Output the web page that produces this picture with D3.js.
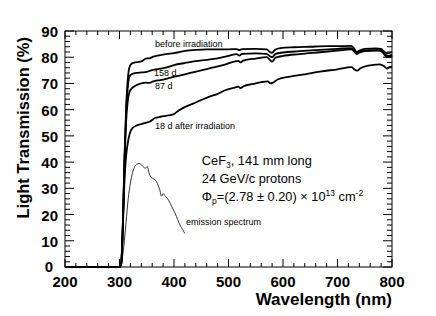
<!DOCTYPE html>
<html>
<head>
<meta charset="utf-8">
<script src="https://cdn.jsdelivr.net/npm/d3@7"></script>
<style>
  body { margin: 0; background: #fff; }
  svg { display: block; font-family: "Liberation Sans", Arial, Helvetica, sans-serif; }
</style>
</head>
<body>
<div class="chart"></div>
<script>
// transmission curves, [wavelength nm, transmission %]
var beforeIrr = [[200,0],[300,0],[303,1],[306,15],[309,40],[312,60],[315,71],[318,76],[322,77.5],[328,78],[336,78.2],[342,78.6],[348,79.5],[355,79.6],[362,80.2],[370,80.6],[385,81.2],[400,81.6],[420,82.4],[440,82.8],[460,83],[480,83],[500,83],[515,83.1],[520,82.7],[525,83.1],[550,83.2],[570,83],[576,82],[580,81.7],[585,82.8],[595,83.5],[620,83.8],[650,84],[680,84.2],[700,84.2],[725,84.3],[730,83.5],[735,82],[740,82.5],[750,83.2],[770,83.4],[780,83.2],[786,82],[792,81.5],[800,82]];
var day158 = [[200,0],[300,0],[303,1],[306,15],[309,40],[312,58],[315,68],[318,72.5],[322,73.5],[330,74],[340,74.2],[350,74.4],[358,75],[370,75.5],[385,76],[400,77],[420,77.8],[440,78.5],[460,79],[480,79.6],[500,80.5],[515,81.2],[520,80.6],[525,81.3],[550,81.5],[570,81.3],[576,80.4],[580,80],[586,81.2],[600,81.8],[630,82.3],[660,82.7],[700,83.2],[725,83.5],[730,82.8],[735,81.8],[740,82.2],[750,82.6],[775,82.8],[782,82.5],[788,81],[793,80.5],[800,81]];
var day87 = [[200,0],[300,0],[303,1],[306,15],[309,38],[312,55],[315,63],[318,66.5],[322,68],[330,69.2],[340,70],[348,70.3],[355,70.2],[362,70.8],[375,71.3],[390,72],[410,73],[430,74],[450,75],[470,76],[490,77],[510,78.3],[518,78.6],[522,78],[527,78.7],[550,79.5],[570,80],[576,79],[580,78.3],[586,79.8],[600,80.5],[630,81.2],[668,81.9],[700,82.5],[725,83],[730,82.3],[735,81.2],[740,81.7],[750,82.3],[775,82.5],[782,82],[788,80.5],[793,80],[800,80.5]];
var day18 = [[200,0],[300,0],[303,1],[306,14],[309,32],[312,42],[315,47],[319,51],[325,53.2],[332,54],[340,54.5],[348,55],[356,55.5],[365,56.8],[375,57.3],[390,57.8],[400,58.3],[408,59.6],[420,61],[435,62.3],[448,63.5],[465,65],[480,66],[495,67.5],[510,68.3],[518,68.8],[522,68.2],[528,69],[545,69.8],[560,70.5],[572,70.8],[577,70],[581,70.2],[590,71.5],[613,72.6],[640,73.5],[668,74.5],[700,75.4],[726,76.2],[731,75.3],[736,74.9],[742,75.8],[754,76.7],[778,77.3],[786,76.5],[791,75.7],[796,76.3],[800,76.3]];
var emission = [[300,0],[304,2],[308,8],[312,17],[316,26],[320,32],[324,36],[328,38.3],[332,39.2],[336,39.5],[340,39],[344,38.2],[347,37.6],[351,38.3],[354,36],[357,34.4],[361,33.8],[365,33.2],[368,32.5],[371,31],[374,29.4],[377,27],[380,28],[384,27],[390,25.5],[396,23],[402,20.5],[407,18],[411,16],[416,14.2],[420,12.8]];

var xTicks = [200, 300, 400, 500, 600, 700, 800];
var yTicks = [0, 10, 20, 30, 40, 50, 60, 70, 80, 90];

var width = 436, height = 316;
var margin = { top: 31, right: 44, bottom: 49, left: 65 };

var svg = d3.select('.chart')
  .append('svg')
  .attr('width', width)
  .attr('height', height);

var xScale = d3.scaleLinear()
  .domain([200, 800])
  .range([margin.left, width - margin.right]);

var yScale = d3.scaleLinear()
  .domain([0, 90])
  .range([height - margin.bottom, margin.top]);

var x0 = xScale.range()[0], x1 = xScale.range()[1];
var y0 = yScale.range()[0], y1 = yScale.range()[1];

// frame
svg.append('rect')
  .attr('x', x0).attr('y', y1)
  .attr('width', x1 - x0).attr('height', y0 - y1)
  .attr('fill', 'none').attr('stroke', '#000').attr('stroke-width', 1);

// ticks on all four sides, pointing inward
var xMinor = d3.range(200, 801, 20);
var yMinor = d3.range(0, 91, 2);
var ticks = svg.append('g').attr('stroke', '#000').attr('stroke-width', 1);

xMinor.forEach(function (v) {
  var len = v % 100 === 0 ? 8 : 4;
  var px = xScale(v);
  ticks.append('line').attr('x1', px).attr('x2', px).attr('y1', y0).attr('y2', y0 - len);
  ticks.append('line').attr('x1', px).attr('x2', px).attr('y1', y1).attr('y2', y1 + len);
});
yMinor.forEach(function (v) {
  var len = v % 10 === 0 ? 9 : 5;
  var py = yScale(v);
  ticks.append('line').attr('x1', x0).attr('x2', x0 + len).attr('y1', py).attr('y2', py);
  ticks.append('line').attr('x1', x1).attr('x2', x1 - len).attr('y1', py).attr('y2', py);
});

// tick labels
svg.append('g')
  .selectAll('text')
  .data(xTicks)
  .enter()
  .append('text')
  .attr('x', d => xScale(d))
  .attr('y', y0 + 20)
  .attr('text-anchor', 'middle')
  .attr('font-size', 15)
  .attr('font-weight', 'bold')
  .text(d => d);

svg.append('g')
  .selectAll('text')
  .data(yTicks)
  .enter()
  .append('text')
  .attr('x', d => d === 0 ? x0 - 12 : x0 - 7)
  .attr('y', d => d === 0 ? yScale(d) + 5 : yScale(d) + 6)
  .attr('text-anchor', 'end')
  .attr('font-size', 15)
  .attr('font-weight', 'bold')
  .text(d => d);

// axis titles
svg.append('text')
  .attr('x', x1)
  .attr('y', 305)
  .attr('text-anchor', 'end')
  .attr('font-size', 17)
  .attr('font-weight', 'bold')
  .text('Wavelength (nm)');

svg.append('text')
  .attr('transform', 'translate(29,' + (y1 + 6) + ') rotate(-90)')
  .attr('text-anchor', 'end')
  .attr('font-size', 16.5)
  .attr('font-weight', 'bold')
  .text('Light Transmission (%)');

// curves
var line = d3.line()
  .x(d => xScale(d[0]))
  .y(d => yScale(d[1]))
  .curve(d3.curveMonotoneX);

[beforeIrr, day158, day87, day18].forEach(function (s) {
  svg.append('path')
    .attr('d', line(s))
    .attr('fill', 'none')
    .attr('stroke', '#000')
    .attr('stroke-width', 1.8)
    .attr('stroke-linejoin', 'round');
});

svg.append('path')
  .attr('d', line(emission))
  .attr('fill', 'none')
  .attr('stroke', '#000')
  .attr('stroke-width', 0.8);

// curve labels
var small = svg.append('g').attr('font-size', 9);
small.append('text').attr('x', xScale(365)).attr('y', yScale(83.9)).text('before irradiation');
small.append('text').attr('x', xScale(363.5)).attr('y', yScale(72.8)).text('158 d');
small.append('text').attr('x', xScale(365)).attr('y', yScale(67.7)).text('87 d');
small.append('text').attr('x', xScale(365)).attr('y', yScale(52.6)).text('18 d after irradiation');
small.append('text').attr('x', xScale(422)).attr('y', yScale(16)).text('emission spectrum');

// description
var desc = svg.append('g').attr('font-size', 12.8);
var t1 = desc.append('text').attr('x', xScale(451)).attr('y', yScale(38.9));
t1.append('tspan').text('CeF');
t1.append('tspan').attr('font-size', 8.5).attr('dy', 3).text('3');
t1.append('tspan').attr('dy', -3).text(', 141 mm long');

desc.append('text').attr('x', xScale(451)).attr('y', yScale(32)).text('24 GeV/c protons');

var t3 = desc.append('text').attr('x', xScale(451)).attr('y', yScale(25.2));
t3.append('tspan').text('\u03A6');
t3.append('tspan').attr('font-size', 8.5).attr('dy', 3).text('p');
t3.append('tspan').attr('dy', -3).text('=(2.78 \u00B1 0.20) \u00D7 10');
t3.append('tspan').attr('font-size', 8.5).attr('dy', -5).text('13');
t3.append('tspan').attr('dy', 5).text(' cm');
t3.append('tspan').attr('font-size', 8.5).attr('dy', -5).text('-2');
</script>
</body>
</html>
